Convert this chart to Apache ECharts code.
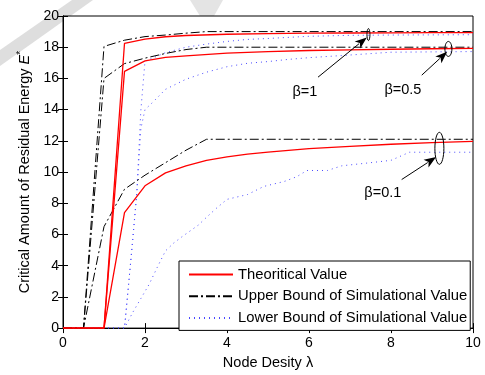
<!DOCTYPE html>
<html><head><meta charset="utf-8">
<script src="https://cdn.jsdelivr.net/npm/echarts@6/dist/echarts.min.js"></script>
<style>html,body{margin:0;padding:0;background:#fff}#c{width:485px;height:375px}</style>
</head><body><div id="c"></div>
<script>
// ---- data ----
const seriesNames = ['Theoritical Value', 'Upper Bound of Simulational Value', 'Lower Bound of Simulational Value'];
const xTicks = [0, 2, 4, 6, 8, 10];
const yTicks = [0, 2, 4, 6, 8, 10, 12, 14, 16, 18, 20];

const theoB1  = [[0,0],[1,0],[1.5,18.25],[2,18.52],[2.5,18.67],[3,18.75],[4,18.83],[5,18.87],[6,18.9],[7,18.91],[8,18.92],[9,18.93],[10,18.93]];
const theoB05 = [[0,0],[1,0],[1.5,16.45],[2,17.12],[2.5,17.35],[3,17.45],[4,17.62],[5,17.72],[6,17.79],[7,17.83],[8,17.87],[9,17.9],[10,17.92]];
const theoB01 = [[0,0],[1,0],[1.5,7.4],[2,9.12],[2.5,9.95],[3,10.4],[3.5,10.75],[4,10.97],[4.5,11.15],[5,11.28],[6,11.5],[7,11.65],[8,11.78],[9,11.88],[10,11.96]];

const upB1  = [[0,0],[0.5,0],[1,18.05],[1.5,18.45],[2,18.68],[2.5,18.78],[3,18.9],[3.5,19.0],[10,19.0]];
const upB05 = [[0,0],[0.5,0],[1,16.0],[1.5,16.95],[2,17.3],[2.5,17.6],[3,17.85],[3.5,18.0],[10,18.0]];
const upB01 = [[0,0],[0.5,0],[1,6.5],[1.5,8.9],[2,9.8],[2.5,10.6],[3,11.4],[3.5,12.1],[10,12.1]];

const lowB1  = [[0,0],[1.5,0],[1.6,2.8],[1.7,5.7],[1.8,8.7],[1.9,14.0],[2,17.1],[2.5,17.65],[3,18.0],[3.5,18.2],[4,18.37],[4.5,18.5],[5,18.56],[6,18.7],[7,18.76],[8,18.78],[10,18.8]];
const lowB05 = [[0,0],[1.5,0],[1.6,2.8],[1.7,5.6],[1.8,8.6],[1.9,12.8],[2,14.0],[2.2,14.5],[2.5,15.3],[3,15.95],[3.5,16.4],[4,16.75],[4.5,16.97],[5,17.08],[5.5,17.22],[6,17.33],[7,17.5],[8,17.68],[10,17.72]];
const lowB01 = [[0,0],[1.5,0],[1.7,1.0],[1.9,1.9],[2.1,2.8],[2.3,3.9],[2.5,4.95],[2.7,5.45],[2.9,5.85],[3.3,6.6],[3.5,7.1],[3.75,7.7],[4,8.25],[4.5,8.56],[4.9,9.08],[5.4,9.4],[5.7,9.7],[5.95,10.1],[6.45,10.1],[6.8,10.4],[7.5,10.6],[8,10.75],[8.45,11.27],[10,11.27]];

// annotations in data coordinates
const annoLabels = [{t:'β=1', x:5.9, y:15.13}, {t:'β=0.5', x:8.29, y:15.26}, {t:'β=0.1', x:7.8, y:8.63}];
const annoEllipses = [{x:7.45, y:18.81, rx:1.5, ry:6}, {x:9.40, y:17.89, rx:3.5, ry:7.5}, {x:9.18, y:11.52, rx:4.5, ry:16}];
const annoArrows = [{from:[6.22,16.08], to:[7.41,18.63]}, {from:[8.75,16.21], to:[9.37,17.71]}, {from:[8.26,9.52], to:[9.10,10.96]}];

// ---- chart ----
const FONT = 'Liberation Sans, Arial, Helvetica, sans-serif';
const chart = echarts.init(document.getElementById('c'), null, {renderer:'canvas'});
const red = {color:'#ff0000', width:1.3, type:'solid'};
const blk = {color:'#000000', width:1, type:[9,3,2,3]};
const blu = {color:'#4a4aff', width:1, type:[1,4]};
function mk(name, data, ls, z){
  return {type:'line', name, data, showSymbol:false, symbol:'none', lineStyle:ls, itemStyle:{color:ls.color}, z, animation:false, silent:true};
}
const series = [
  mk(seriesNames[0], theoB1, red, 5), mk(seriesNames[0], theoB05, red, 5), mk(seriesNames[0], theoB01, red, 5),
  mk(seriesNames[1], upB1, blk, 4), mk(seriesNames[1], upB05, blk, 4), mk(seriesNames[1], upB01, blk, 4),
  mk(seriesNames[2], lowB1, blu, 3), mk(seriesNames[2], lowB05, blu, 3), mk(seriesNames[2], lowB01, blu, 3)
];
const axLine = {show:true, lineStyle:{color:'#000', width:1}};
const tick = {show:true, inside:true, length:5, lineStyle:{color:'#000'}};
chart.setOption({
  animation:false,
  backgroundColor:'#fff',
  textStyle:{fontFamily:FONT},
  grid:{left:63, top:16, width:410, height:319.5, show:true, borderColor:'#000', borderWidth:1, backgroundColor:'#fff'},
  legend:{
    data:seriesNames, orient:'vertical', left:179, top:261,
    backgroundColor:'#fff', borderColor:'#000', borderWidth:1, borderRadius:0,
    padding:[6,3,5,9], itemWidth:44, itemHeight:14, itemGap:6.7,
    itemStyle:{opacity:0, borderWidth:0},
    textStyle:{fontSize:14.8, color:'#000', fontFamily:FONT}, selectedMode:false
  },
  xAxis:[
    {type:'value', min:0, max:10, interval:2, position:'bottom', axisLine:axLine, axisTick:tick, splitLine:{show:false},
     axisLabel:{color:'#000', fontSize:14, margin:8, fontFamily:FONT},
     name:'Node Desity λ', nameLocation:'middle', nameGap:24, nameTextStyle:{color:'#000', fontSize:14.5, fontFamily:FONT}},
    {type:'value', min:0, max:10, interval:2, position:'top', axisLine:axLine, axisTick:tick, splitLine:{show:false}, axisLabel:{show:false}}
  ],
  yAxis:[
    {type:'value', min:0, max:20, interval:2, position:'left', axisLine:axLine, axisTick:tick, splitLine:{show:false},
     axisLabel:{color:'#000', fontSize:14, margin:4, fontFamily:FONT},
     name:'Critical Amount of Residual Energy {i|E}{s|*}', nameLocation:'middle', nameGap:24,
     nameTextStyle:{color:'#000', fontSize:14.5, fontFamily:FONT,
       rich:{i:{fontStyle:'italic', fontSize:14.5, color:'#000', fontFamily:FONT}, s:{fontSize:10, color:'#000', verticalAlign:'top', padding:[0,0,8,0], fontFamily:FONT}}}},
    {type:'value', min:0, max:20, interval:2, position:'right', axisLine:axLine, axisTick:tick, splitLine:{show:false}, axisLabel:{show:false}}
  ],
  series
});

function annotate(){
  const P = p => chart.convertToPixel({xAxisIndex:0, yAxisIndex:0}, p);
  const g = [];
  // faint background watermark pieces visible outside the plot frame
  g.push({type:'polygon', z:-10, zlevel:0, silent:true, shape:{points:[[72,0],[93,0],[0,66],[0,50]]}, style:{fill:'#dedede'}});
  g.push({type:'polygon', z:-10, zlevel:0, silent:true, shape:{points:[[190,0],[223,0],[214,16],[200,16]]}, style:{fill:'#e4e4e4'}});
  annoEllipses.forEach(e => {
    const c = P([e.x, e.y]);
    g.push({type:'ellipse', z:100, shape:{cx:c[0], cy:c[1], rx:e.rx, ry:e.ry}, style:{fill:null, stroke:'#000', lineWidth:1}});
  });
  annoArrows.forEach(a => {
    const p1 = P(a.from), p2 = P(a.to);
    const dx = p2[0]-p1[0], dy = p2[1]-p1[1], L = Math.hypot(dx, dy);
    const ux = dx/L, uy = dy/L, hl = 12, hw = 4.5;
    const bx = p2[0]-ux*hl, by = p2[1]-uy*hl;
    g.push({type:'line', z:100, shape:{x1:p1[0], y1:p1[1], x2:bx+ux*2, y2:by+uy*2}, style:{stroke:'#000', lineWidth:1}});
    g.push({type:'polygon', z:100, shape:{points:[[p2[0],p2[1]],[bx-uy*hw, by+ux*hw],[bx+ux*3, by+uy*3],[bx+uy*hw, by-ux*hw]]}, style:{fill:'#000'}});
  });
  annoLabels.forEach(l => {
    const c = P([l.x, l.y]);
    g.push({type:'text', z:100, x:c[0], y:c[1], style:{text:l.t, fill:'#000', font:'14.5px ' + FONT, align:'center', verticalAlign:'middle'}});
  });
  chart.setOption({graphic:g});
}
annotate();
</script>
</body></html>
